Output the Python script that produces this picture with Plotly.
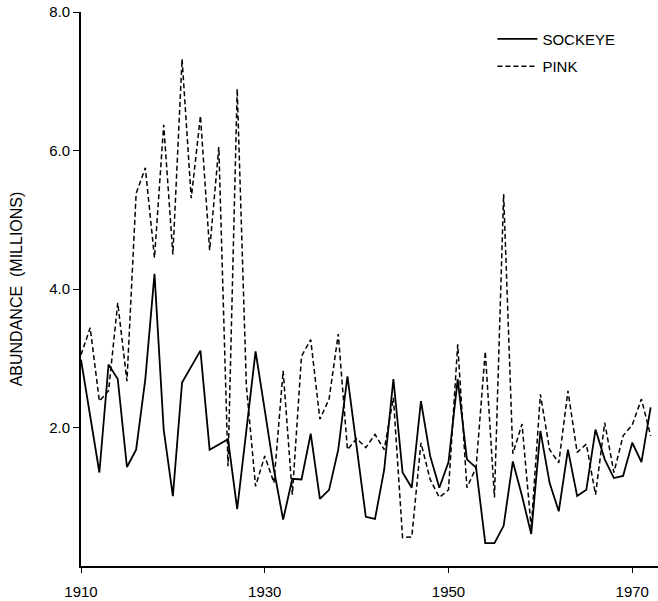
import plotly.graph_objects as go

years = list(range(1910, 1973))

sockeye = [2.98, 2.16, 1.35, 2.91, 2.70, 1.43, 1.68, 2.70, 4.22, 1.97,
           1.01, 2.65, 2.88, 3.11, 1.68, 1.75, 1.83, 0.82, 1.96, 3.10,
           2.25, 1.39, 0.67, 1.26, 1.25, 1.91, 0.97, 1.10, 1.68, 2.74,
           1.72, 0.71, 0.68, 1.39, 2.70, 1.35, 1.13, 2.38, 1.59, 1.13,
           1.50, 2.70, 1.54, 1.42, 0.33, 0.33, 0.58, 1.51, 1.01, 0.46,
           1.95, 1.20, 0.79, 1.68, 1.01, 1.10, 1.97, 1.54, 1.27, 1.30,
           1.78, 1.50, 2.29]

pink = [3.05, 3.44, 2.38, 2.53, 3.80, 2.67, 5.38, 5.75, 4.45, 6.37,
        4.50, 7.32, 5.31, 6.50, 4.56, 6.05, 1.44, 6.89, 2.60, 1.15,
        1.59, 1.20, 2.82, 1.03, 3.03, 3.27, 2.12, 2.41, 3.35, 1.68,
        1.84, 1.71, 1.90, 1.68, 2.43, 0.41, 0.42, 1.78, 1.25, 0.99,
        1.10, 3.20, 1.13, 1.42, 3.10, 0.99, 5.37, 1.62, 2.05, 0.55,
        2.48, 1.68, 1.49, 2.53, 1.64, 1.76, 1.03, 2.07, 1.35, 1.88,
        2.04, 2.41, 1.88]

x_ticks = [1910, 1930, 1950, 1970]
y_ticks = [2.0, 4.0, 6.0, 8.0]
y_tick_labels = ["2.0", "4.0", "6.0", "8.0"]

FONT = "Liberation Sans, Arial, sans-serif"

fig = go.Figure()
fig.add_trace(go.Scatter(x=years, y=sockeye, mode="lines", name="SOCKEYE",
                         legendgroup="s",
                         line=dict(color="black", width=1.8)))
fig.add_trace(go.Scatter(x=years, y=pink, mode="lines", name="PINK",
                         legendgroup="p",
                         line=dict(color="black", width=1.5, dash="5px,3px")))

fig.update_layout(
    width=658, height=601,
    margin=dict(l=81, r=0, t=12, b=35, autoexpand=False),
    paper_bgcolor="white", plot_bgcolor="white",
    font=dict(family=FONT, size=14, color="black"),
    showlegend=True,
    legend=dict(x=0.713, y=0.981, xanchor="left", yanchor="top",
                bgcolor="rgba(0,0,0,0)", borderwidth=0,
                font=dict(family=FONT, size=15, color="black"),
                tracegroupgap=5, itemwidth=40),
    xaxis=dict(range=[1910, 1972.8], tickvals=x_ticks,
               ticktext=[str(v) for v in x_ticks],
               showgrid=False, zeroline=False, showline=True,
               linecolor="black", linewidth=1.5, ticks="outside",
               ticklen=5, tickwidth=1, tickcolor="black",
               ticklabelstandoff=6,
               tickfont=dict(family=FONT, size=15)),
    yaxis=dict(range=[0, 8.0], tickvals=y_ticks, ticktext=y_tick_labels,
               showgrid=False, zeroline=False, showline=True,
               linecolor="black", linewidth=2, ticks="outside",
               ticklen=6, tickwidth=1, tickcolor="black",
               tickfont=dict(family=FONT, size=15),
               automargin=False,
               title=dict(text="ABUNDANCE  (MILLIONS)", standoff=23,
                          font=dict(family=FONT, size=16))),
)

fig.write_html("out.html",
               config={"displayModeBar": False},
               post_script="document.body.style.margin='0';"
                           "document.body.style.overflow='hidden';")
